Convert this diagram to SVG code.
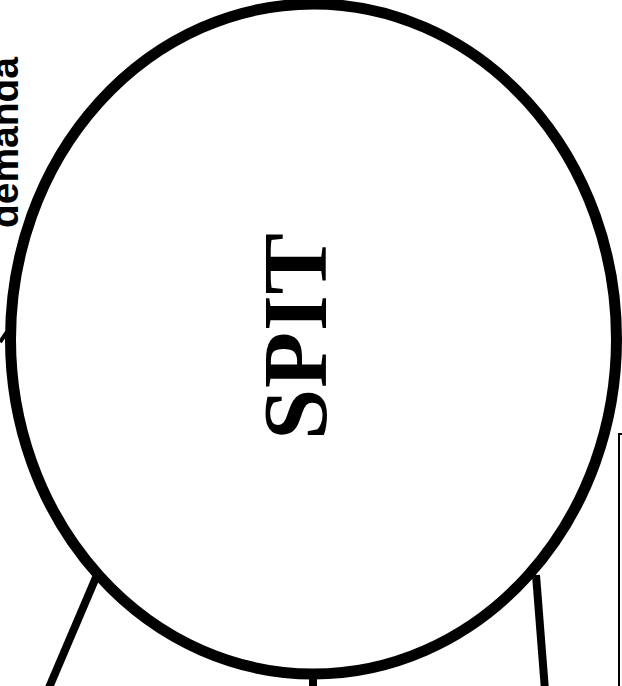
<svg xmlns="http://www.w3.org/2000/svg" width="622" height="686" viewBox="0 0 622 686">
<style>
.edge{stroke:#000;stroke-width:8;fill:none;stroke-linecap:butt}
.thin{stroke:#000;stroke-width:2;fill:none}
.lbl{font-family:"Liberation Serif","Times New Roman",serif;font-weight:bold;fill:#000}
.side{font-family:"Liberation Sans",Arial,sans-serif;font-weight:bold;fill:#000}
</style>
<rect width="622" height="686" fill="#fff"/>
<g id="connectors">
<line class="edge" x1="97" y1="575" x2="48" y2="690"/>
<line class="edge" x1="536" y1="575" x2="545" y2="690"/>
<line class="edge" x1="313" y1="676" x2="313" y2="690"/>
<line class="edge" x1="0" y1="342" x2="7" y2="332" style="stroke-width:4"/>
</g>
<g id="spit">
<ellipse cx="313.5" cy="339" rx="303" ry="335" fill="none" stroke="#000" stroke-width="11"/>
<text class="lbl" transform="translate(326,440) rotate(-90)" font-size="92" textLength="207" lengthAdjust="spacing">SPIT</text>
</g>
<g id="demanda">
<text class="side" transform="translate(18,228) rotate(-90)" font-size="39" textLength="171" lengthAdjust="spacingAndGlyphs">demanda</text>
</g>
<g id="box">
<rect class="thin" x="619" y="434" width="20" height="270"/>
</g>
</svg>
